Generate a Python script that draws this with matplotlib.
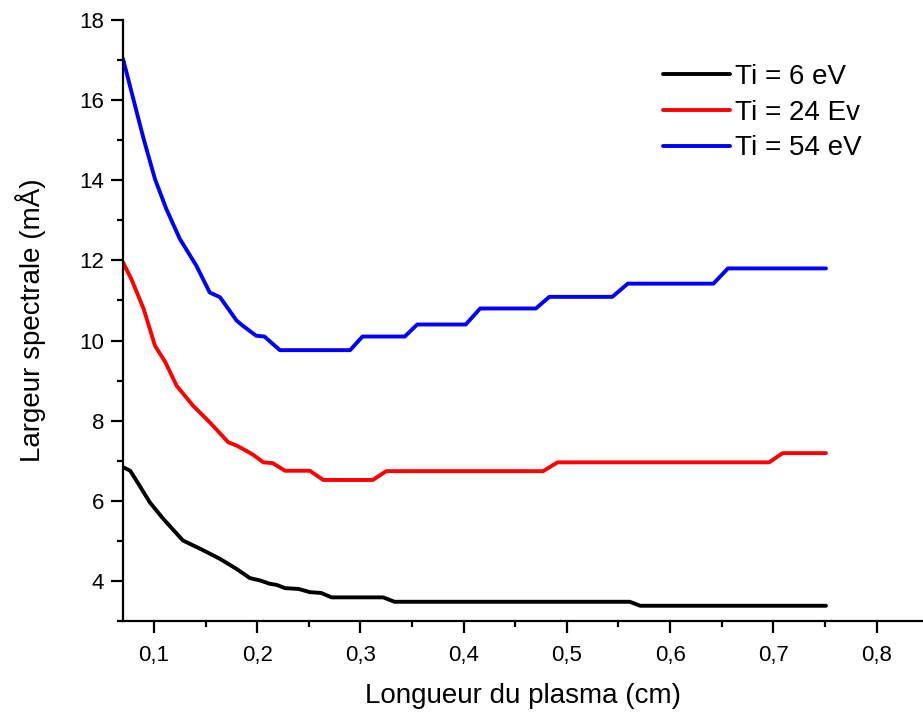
import matplotlib
matplotlib.use("Agg")
import matplotlib.pyplot as plt
from matplotlib.ticker import MultipleLocator, FuncFormatter

# data (x in cm, y in mÅ)
x_6 = [0.070, 0.077, 0.086, 0.096, 0.109, 0.128, 0.145, 0.164, 0.180, 0.193,
       0.203, 0.212, 0.219, 0.227, 0.240, 0.251, 0.262, 0.272, 0.322, 0.333,
       0.561, 0.571, 0.751]
y_6 = [6.84, 6.75, 6.38, 5.96, 5.55, 5.01, 4.80, 4.55, 4.30, 4.07,
       4.01, 3.93, 3.90, 3.82, 3.80, 3.72, 3.70, 3.59, 3.59, 3.48,
       3.48, 3.38, 3.38]

x_24 = [0.070, 0.078, 0.090, 0.101, 0.111, 0.122, 0.138, 0.154, 0.172, 0.180,
        0.190, 0.196, 0.206, 0.215, 0.227, 0.251, 0.264, 0.312, 0.325, 0.477,
        0.491, 0.696, 0.709, 0.751]
y_24 = [11.95, 11.54, 10.79, 9.87, 9.46, 8.87, 8.37, 7.96, 7.46, 7.38,
        7.24, 7.15, 6.96, 6.94, 6.75, 6.75, 6.52, 6.52, 6.74, 6.74,
        6.96, 6.96, 7.19, 7.19]

x_54 = [0.070, 0.080, 0.090, 0.101, 0.112, 0.125, 0.141, 0.154, 0.164, 0.180,
        0.186, 0.199, 0.207, 0.222, 0.290, 0.302, 0.343, 0.355, 0.402, 0.416,
        0.470, 0.483, 0.544, 0.559, 0.642, 0.656, 0.751]
y_54 = [17.03, 16.03, 15.03, 14.03, 13.28, 12.54, 11.87, 11.20, 11.08, 10.50,
        10.37, 10.12, 10.10, 9.76, 9.76, 10.10, 10.10, 10.40, 10.40, 10.80,
        10.80, 11.09, 11.09, 11.42, 11.42, 11.80, 11.80]

labels = ["Ti = 6 eV", "Ti = 24 Ev", "Ti = 54 eV"]
colors = ["black", "#ff0000", "#0000ff"]

plt.rcParams["font.family"] = ["Liberation Sans", "DejaVu Sans"]

fig = plt.figure(figsize=(9.23, 7.15), dpi=100)
ax = fig.add_axes([123 / 923, 1 - 621 / 715, 1 - 123 / 923, (621 - 20) / 715])

for xs, ys, lab, col in zip([x_6, x_24, x_54], [y_6, y_24, y_54], labels, colors):
    ax.plot(xs, ys, color=col, lw=2.8, label=lab, solid_joinstyle="round",
            solid_capstyle="round")

ax.set_xlim(0.07, 0.845)
ax.set_ylim(3, 18)

for s in ["top", "right"]:
    ax.spines[s].set_visible(False)
for s in ["left", "bottom"]:
    ax.spines[s].set_linewidth(1.6)

ax.xaxis.set_major_locator(MultipleLocator(0.1))
ax.xaxis.set_minor_locator(MultipleLocator(0.05))
ax.yaxis.set_major_locator(MultipleLocator(2))
ax.yaxis.set_minor_locator(MultipleLocator(1))
ax.xaxis.set_major_formatter(FuncFormatter(lambda v, p: f"{v:.1f}".replace(".", ",")))
ax.yaxis.set_major_formatter(FuncFormatter(lambda v, p: f"{v:.0f}"))

ax.tick_params(axis="both", which="major", direction="out", length=8.5, width=1.6,
               labelsize=16)
ax.tick_params(axis="both", which="minor", direction="out", length=4.5, width=1.6)
ax.tick_params(axis="x", which="major", pad=9)
ax.tick_params(axis="y", which="major", pad=5)

ax.set_xlabel("Longueur du plasma (cm)", fontsize=20, labelpad=12)
ax.set_ylabel("Largeur spectrale (mÅ)", fontsize=20, labelpad=24)

ax.legend(loc="upper left", bbox_to_anchor=(663 / 923, 1 - 64 / 715),
          bbox_transform=fig.transFigure, frameon=False, fontsize=20,
          handlelength=2.4, handletextpad=0.2, labelspacing=0.35,
          borderpad=0, borderaxespad=0)

fig.savefig("out.png", dpi=100)
